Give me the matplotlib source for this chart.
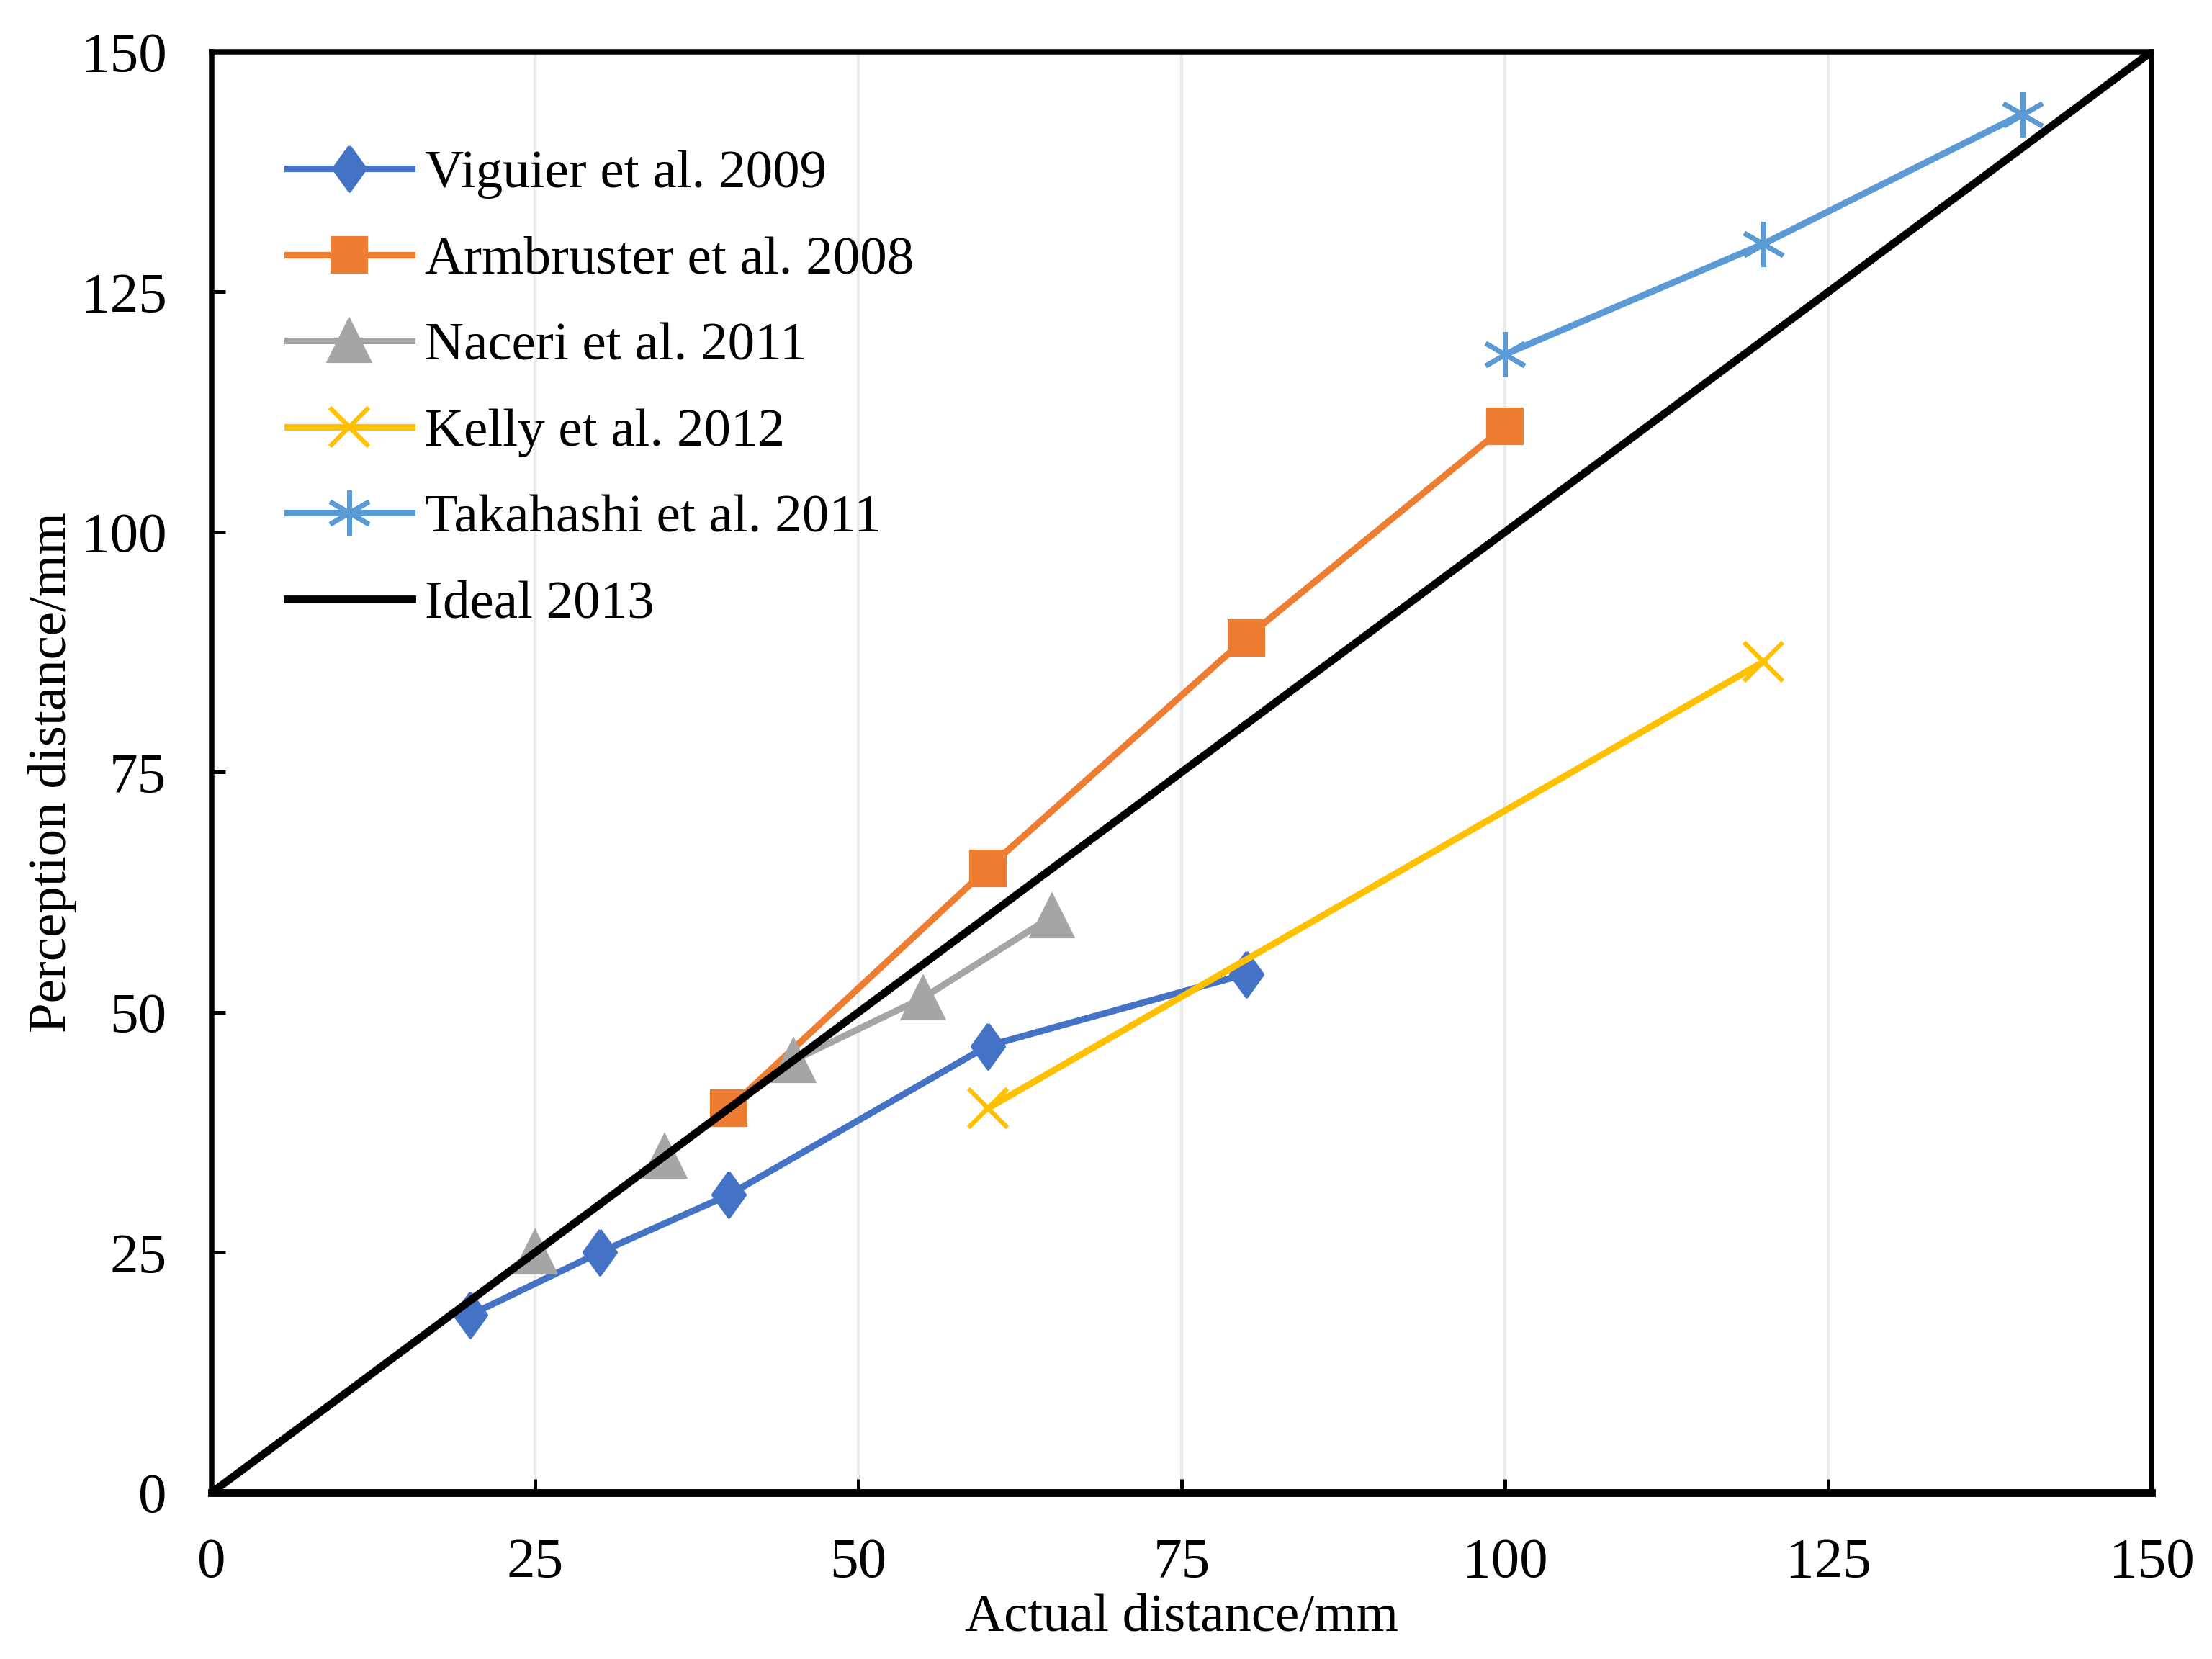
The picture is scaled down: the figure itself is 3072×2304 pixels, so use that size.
import numpy as np
import matplotlib
matplotlib.use("Agg")
import matplotlib.pyplot as plt

# data
viguier_x = [20, 30, 40, 60, 80]
viguier_y = [18.5, 25, 31, 46.5, 54]
armbruster_x = [40, 60, 80, 100]
armbruster_y = [40, 65, 89, 111]
naceri_x = [25, 35, 45, 55, 65]
naceri_y = [25, 35, 45, 51.5, 60]
kelly_x = [60, 120]
kelly_y = [40, 86.5]
takahashi_x = [100, 120, 140]
takahashi_y = [118.5, 130, 143.5]
ideal_x = [0, 150]
ideal_y = [0, 150]

ticks = [0, 25, 50, 75, 100, 125, 150]

plt.rcParams['font.family'] = ['Liberation Serif', 'DejaVu Serif']

fig = plt.figure(figsize=(10.24, 7.68), dpi=300)
ax = fig.add_axes([0.0957, 0.1003, 0.877, 0.8685])

# slim diamond like the excel marker
diamond = [(0, 1), (0.72, 0), (0, -1), (-0.72, 0), (0, 1)]

ax.plot(viguier_x, viguier_y, color='#4472C4', lw=2.2, marker=diamond,
        ms=15, label='Viguier et al. 2009', zorder=3)
ax.plot(armbruster_x, armbruster_y, color='#ED7D31', lw=2.2, marker='s',
        ms=11.5, label='Armbruster et al. 2008', zorder=3)
ax.plot(naceri_x, naceri_y, color='#A5A5A5', lw=2.2, marker='^',
        ms=14, label='Naceri et al. 2011', zorder=3)
ax.plot(kelly_x, kelly_y, color='#FFC000', lw=2.2, marker='x',
        ms=13, mew=1.5, label='Kelly et al. 2012', zorder=3)
ax.plot(takahashi_x, takahashi_y, color='#5B9BD5', lw=2.2, marker=(6, 2, 0),
        ms=15, mew=1.6, label='Takahashi et al. 2011', zorder=3)
ax.plot(ideal_x, ideal_y, color='black', lw=2.6, label='Ideal 2013', zorder=4)

ax.set_xlim(0, 150)
ax.set_ylim(0, 150)
ax.set_xticks(ticks)
ax.set_yticks(ticks)
ax.grid(axis='x', color='#EBEBEB', lw=1.0)
ax.set_axisbelow(True)

for s in ['left', 'right', 'top']:
    ax.spines[s].set_linewidth(1.8)
ax.spines['bottom'].set_linewidth(2.6)

ax.tick_params(axis='both', direction='in', length=4.5, width=1.2,
               labelsize=19, pad=15)

ax.set_xlabel('Actual distance/mm', fontsize=18, va='center')
ax.xaxis.set_label_coords(0.5, -0.087)
ax.set_ylabel('Perception distance/mm', fontsize=18, va='center')
ax.yaxis.set_label_coords(-0.082, 0.5)

ax.legend(loc='upper left', bbox_to_anchor=(0.039, 0.932), frameon=False,
          fontsize=18, handlelength=2.3, handletextpad=0.25,
          labelspacing=0.68, borderpad=0, borderaxespad=0)

fig.savefig('out.png', dpi=300)
